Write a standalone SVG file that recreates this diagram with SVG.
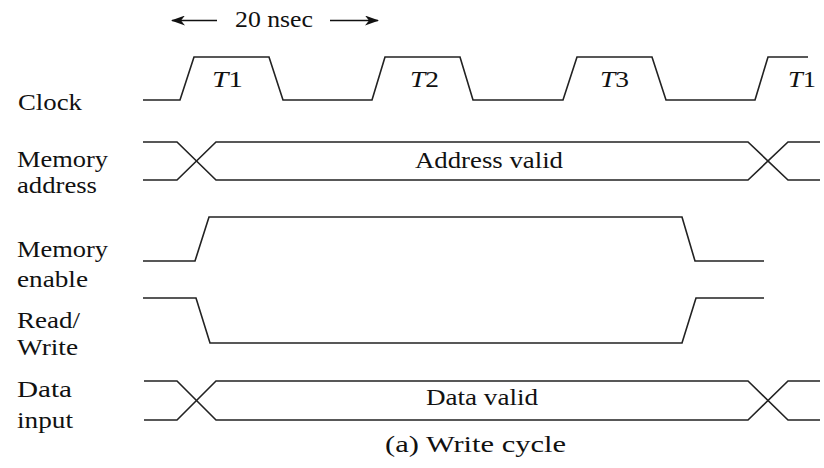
<svg xmlns="http://www.w3.org/2000/svg" width="824" height="468" viewBox="0 0 824 468">
<style>
text{font-family:'Liberation Serif','Times New Roman',Times,serif;font-size:24px;fill:#111}
.w{fill:none;stroke:#222;stroke-width:1.6;stroke-linejoin:miter}
.a{fill:none;stroke:#111;stroke-width:1.6}
</style>
<defs>
<marker id="ah" viewBox="0 0 14 10" refX="13" refY="5" markerWidth="14" markerHeight="10" markerUnits="userSpaceOnUse" orient="auto">
<path d="M0,0 L14,5 L0,10 L4,5 Z" fill="#111"/>
</marker>
</defs>
<rect width="824" height="468" fill="#fff"/>
<g id="period">
<line class="a" x1="217" y1="20.5" x2="172" y2="20.5" marker-end="url(#ah)"/>
<line class="a" x1="330" y1="20.5" x2="378" y2="20.5" marker-end="url(#ah)"/>
<text x="235" y="27" font-size="26" textLength="78" lengthAdjust="spacingAndGlyphs">20 nsec</text>
</g>
<g id="labels">
<text x="18" y="110" textLength="64" lengthAdjust="spacingAndGlyphs">Clock</text>
<text x="17" y="167" textLength="91" lengthAdjust="spacingAndGlyphs">Memory</text>
<text x="17" y="193" textLength="80" lengthAdjust="spacingAndGlyphs">address</text>
<text x="17" y="257" textLength="91" lengthAdjust="spacingAndGlyphs">Memory</text>
<text x="17" y="287" textLength="71" lengthAdjust="spacingAndGlyphs">enable</text>
<text x="17" y="328" textLength="63" lengthAdjust="spacingAndGlyphs">Read/</text>
<text x="17" y="355" textLength="61" lengthAdjust="spacingAndGlyphs">Write</text>
<text x="17" y="397" textLength="55" lengthAdjust="spacingAndGlyphs">Data</text>
<text x="17" y="428" textLength="56" lengthAdjust="spacingAndGlyphs">input</text>
</g>
<g id="clock">
<path class="w" d="M143,100 H180 L194,57 H269 L283,100 H372 L385,57 H460 L473,100 H563 L577,57 H652 L666,100 H755 L768,57 H808"/>
<text x="212" y="87" textLength="31" lengthAdjust="spacingAndGlyphs"><tspan font-style="italic">T</tspan>1</text>
<text x="410" y="87" textLength="29" lengthAdjust="spacingAndGlyphs"><tspan font-style="italic">T</tspan>2</text>
<text x="600" y="87" textLength="29" lengthAdjust="spacingAndGlyphs"><tspan font-style="italic">T</tspan>3</text>
<text x="788" y="87" textLength="28" lengthAdjust="spacingAndGlyphs"><tspan font-style="italic">T</tspan>1</text>
</g>
<g id="memory-address">
<path class="w" d="M143,142 H177 L216,180 H748 L788,142 H820"/>
<path class="w" d="M143,180 H177 L216,142 H748 L788,180 H820"/>
<text x="415" y="168" textLength="148" lengthAdjust="spacingAndGlyphs">Address valid</text>
</g>
<g id="memory-enable">
<path class="w" d="M143,261 H195 L209,217 H682 L695,261 H764"/>
</g>
<g id="read-write">
<path class="w" d="M143,298 H196 L210,343 H682 L696,298 H764"/>
</g>
<g id="data-input">
<path class="w" d="M144,381 H177 L216,420 H748 L788,381 H820"/>
<path class="w" d="M144,420 H177 L216,381 H748 L788,420 H820"/>
<text x="426" y="405" textLength="112" lengthAdjust="spacingAndGlyphs">Data valid</text>
</g>
<g id="caption">
<text x="385" y="452" textLength="181" lengthAdjust="spacingAndGlyphs">(a) Write cycle</text>
</g>
</svg>
